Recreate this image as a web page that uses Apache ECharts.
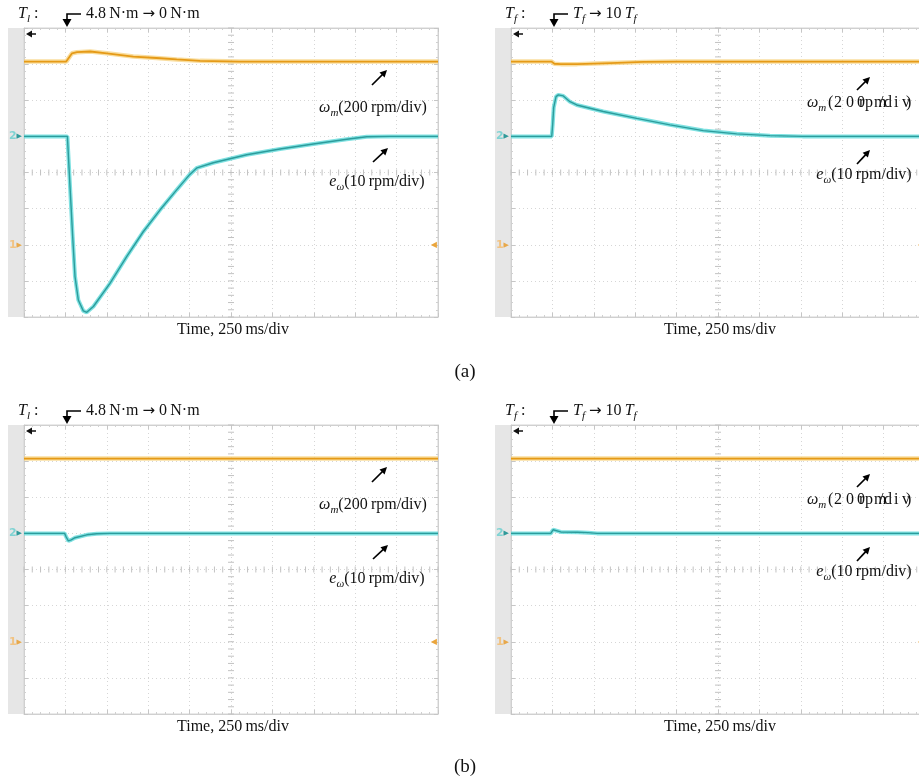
<!DOCTYPE html>
<html>
<head>
<meta charset="utf-8">
<script src="https://cdn.jsdelivr.net/npm/echarts@6/dist/echarts.min.js"></script>
<style>
  html, body { margin: 0; padding: 0; background: #fff; }
  #chart { width: 919px; height: 783px; }
</style>
</head>
<body>
<div id="chart"></div>
<script>
// Scope screen: 10 horizontal divisions of 250 ms, 8 vertical divisions centred on 0.
const msPerDiv = 250;
const timeDivs = 10;
const halfDivs = 4;

// Trace positions are in screen divisions (ω_m: 200 rpm/div, e_ω: 10 rpm/div).
// (a) left: load torque step 4.8 N·m → 0 N·m
const aLoadSpeedTime = [0, 255, 265, 290, 320, 400, 500, 660, 800, 922, 1063, 1300, 2500];
const aLoadSpeed     = [3.07, 3.07, 3.12, 3.30, 3.33, 3.35, 3.30, 3.21, 3.17, 3.13, 3.09, 3.07, 3.07];
const aLoadErrTime   = [0, 262, 278, 294, 308, 328, 358, 379, 419, 519, 620, 720, 821, 922, 1000, 1045, 1143, 1345, 1546, 1747, 1949, 2069, 2210, 2500];
const aLoadErr       = [1.0, 1.0, -0.4, -1.78, -2.88, -3.53, -3.83, -3.87, -3.71, -3.07, -2.33, -1.64, -1.04, -0.48, -0.06, 0.13, 0.27, 0.49, 0.65, 0.79, 0.92, 0.99, 1.0, 1.0];

// (a) right: friction step T_f → 10 T_f
const aFricSpeedTime = [0, 245, 262, 300, 400, 600, 800, 1000, 2500];
const aFricSpeed     = [3.07, 3.07, 3.01, 3.0, 3.0, 3.03, 3.06, 3.07, 3.07];
const aFricErrTime   = [0, 246, 252, 258, 272, 286, 316, 356, 397, 557, 759, 960, 1161, 1363, 1564, 1760, 2500];
const aFricErr       = [1.0, 1.0, 1.35, 1.8, 2.10, 2.15, 2.12, 1.96, 1.87, 1.69, 1.50, 1.32, 1.16, 1.07, 1.02, 1.0, 1.0];

// (b) left: load torque step
const bLoadSpeedTime = [0, 600, 1250, 1900, 2500];
const bLoadSpeed     = [3.07, 3.07, 3.07, 3.07, 3.07];
const bLoadErrTime   = [0, 245, 255, 268, 285, 308, 379, 439, 520, 2500];
const bLoadErr       = [1.0, 1.0, 0.9, 0.79, 0.82, 0.88, 0.96, 0.99, 1.0, 1.0];

// (b) right: friction step
const bFricSpeedTime = [0, 600, 1250, 1900, 2500];
const bFricSpeed     = [3.07, 3.07, 3.07, 3.07, 3.07];
const bFricErrTime   = [0, 240, 254, 262, 300, 400, 465, 520, 2500];
const bFricErr       = [1.0, 1.0, 1.1, 1.06, 1.04, 1.03, 1.02, 1.0, 1.0];

// Channel ground markers and trigger level (divisions)
const ch1Ground = -2;
const ch2Ground = 1;
const triggerLevel = -2;

// Texts
const timeText = 'Time, 250\u2009ms/div';
const speedScaleText = '(200\u2009rpm/div)';
const errScaleText = '(10\u2009rpm/div)';
const subfigLabels = ['(a)', '(b)'];

const traces = [
  { speed: [aLoadSpeedTime, aLoadSpeed], err: [aLoadErrTime, aLoadErr], kind: 'load' },
  { speed: [aFricSpeedTime, aFricSpeed], err: [aFricErrTime, aFricErr], kind: 'fric' },
  { speed: [bLoadSpeedTime, bLoadSpeed], err: [bLoadErrTime, bLoadErr], kind: 'load' },
  { speed: [bFricSpeedTime, bFricSpeed], err: [bFricErrTime, bFricErr], kind: 'fric' }
];

// Layout of the four scope screens
const W = 414, H = 289;
const panels = [
  { left: 24,  top: 28,  col: 0 },
  { left: 511, top: 28,  col: 1 },
  { left: 24,  top: 425, col: 0 },
  { left: 511, top: 425, col: 1 }
];

const SERIF = "'Liberation Serif', 'Times New Roman', serif";
const FS = 16;
const INK = '#111';
const YEL = '#E59A17', YEL_HALO = '#F7D27E';
const CYA = '#2C9C9C', CYA_HALO = '#5FDADA';

const zip = (t, v) => t.map((x, k) => [x, v[k]]);

const chart = echarts.init(document.getElementById('chart'), null, { renderer: 'canvas' });

const grid = [], xAxis = [], yAxis = [], series = [];
const gridLineColor = '#d6d6d6';

panels.forEach((p, i) => {
  grid.push({
    left: p.left, top: p.top, width: W, height: H,
    outerBoundsMode: 'none', containLabel: false,
    show: true, backgroundColor: '#fff', borderColor: '#d4d4d4', borderWidth: 1
  });
  const xBase = {
    gridIndex: i, type: 'value', min: 0, max: msPerDiv * timeDivs, interval: msPerDiv,
    axisLine: { show: true, onZero: false, lineStyle: { color: '#d0d0d0', width: 1 } },
    axisTick: { show: true, inside: true, length: 4, lineStyle: { color: '#c6c6c6' } },
    minorTick: { show: true, splitNumber: 5, length: 2, lineStyle: { color: '#d0d0d0' } },
    axisLabel: { show: false }
  };
  xAxis.push(Object.assign({}, xBase, {
    position: 'bottom',
    splitLine: { show: true, lineStyle: { color: gridLineColor, type: [1, 3], width: 1 } }
  }));
  xAxis.push(Object.assign({}, xBase, { position: 'top', splitLine: { show: false } }));

  const yBase = {
    gridIndex: i, type: 'value', min: -halfDivs, max: halfDivs, interval: 1,
    axisLine: { show: true, onZero: false, lineStyle: { color: '#d0d0d0', width: 1 } },
    axisTick: { show: true, inside: true, length: 4, lineStyle: { color: '#c6c6c6' } },
    minorTick: { show: true, splitNumber: 5, length: 2, lineStyle: { color: '#d0d0d0' } }
  };
  yAxis.push(Object.assign({}, yBase, {
    position: 'left',
    splitLine: { show: true, lineStyle: { color: gridLineColor, type: [1, 3], width: 1 } },
    axisLabel: {
      show: true, margin: 2,
      showMinLabel: false, showMaxLabel: false,
      formatter: v => v === ch2Ground ? '{c|2}{ca|▶}' : (v === ch1Ground ? '{o|1}{oa|▶}' : ''),
      rich: {
        c: { color: '#7fd3d3', fontSize: 11, fontFamily: 'DejaVu Sans', fontWeight: 'bold' },
        ca: { color: '#2f9a9a', fontSize: 7, fontFamily: 'DejaVu Sans' },
        o: { color: '#f1c383', fontSize: 11, fontFamily: 'DejaVu Sans', fontWeight: 'bold' },
        oa: { color: '#e8a84a', fontSize: 7, fontFamily: 'DejaVu Sans' }
      }
    }
  }));
  yAxis.push(Object.assign({}, yBase, {
    position: 'right', splitLine: { show: false },
    axisLabel: {
      show: true, inside: true, margin: 1,
      showMinLabel: false, showMaxLabel: false,
      formatter: v => v === triggerLevel ? '{t|◀}' : '',
      rich: { t: { color: '#eaa53c', fontSize: 8, fontFamily: 'DejaVu Sans' } }
    }
  }));

  const xi = 2 * i, yi = 2 * i;
  const tr = traces[i];
  const lineBase = { type: 'line', xAxisIndex: xi, yAxisIndex: yi, showSymbol: false, silent: true, animation: false };

  // Centre graticule with fine ticks every 1/5 division
  series.push({
    type: 'custom', xAxisIndex: xi, yAxisIndex: yi, silent: true, z: 1, animation: false,
    data: [[msPerDiv * timeDivs / 2, 0]],
    renderItem: (params, api) => {
      const c = api.coord([msPerDiv * timeDivs / 2, 0]);
      const kids = [];
      const st = { stroke: '#c2c2c2', lineWidth: 1 };
      for (let k = 0; k <= timeDivs * 5; k++) {
        const x = api.coord([k * msPerDiv / 5, 0])[0];
        kids.push({ type: 'line', shape: { x1: x, y1: c[1] - 3, x2: x, y2: c[1] + 3 }, style: st });
      }
      for (let k = 0; k <= halfDivs * 10; k++) {
        const y = api.coord([0, -halfDivs + k / 5])[1];
        kids.push({ type: 'line', shape: { x1: c[0] - 3, y1: y, x2: c[0] + 3, y2: y }, style: st });
      }
      return { type: 'group', children: kids };
    }
  });

  series.push(Object.assign({}, lineBase, {
    name: 'ω_m halo', z: 2, data: zip(tr.speed[0], tr.speed[1]),
    lineStyle: { color: YEL_HALO, width: 4.5, opacity: 0.75 }
  }));
  series.push(Object.assign({}, lineBase, {
    name: 'ω_m', z: 3, data: zip(tr.speed[0], tr.speed[1]),
    lineStyle: { color: YEL, width: 1.8 }
  }));
  series.push(Object.assign({}, lineBase, {
    name: 'e_ω halo', z: 2, data: zip(tr.err[0], tr.err[1]),
    lineStyle: { color: CYA_HALO, width: 4, opacity: 0.8 }
  }));
  series.push(Object.assign({}, lineBase, {
    name: 'e_ω', z: 3, data: zip(tr.err[0], tr.err[1]),
    lineStyle: { color: CYA, width: 1.4 }
  }));
});

// ---------- annotation graphics ----------
const richTokens = {
  n: { fontFamily: SERIF, fontSize: FS, fill: INK },
  a: { fontFamily: 'DejaVu Sans', fontSize: 15, fill: INK },
  i: { fontFamily: SERIF, fontSize: FS, fontStyle: 'italic', fill: INK },
  s: { fontFamily: SERIF, fontSize: 11, fontStyle: 'italic', fill: INK, padding: [11, 0, 0, 0] }
};
function rtext(x, y, text, align, size) {
  const rich = size ? { n: Object.assign({}, richTokens.n, { fontSize: size }) } : richTokens;
  return {
    type: 'text', z: 10, silent: true,
    style: {
      x, y, text, rich,
      align: align || 'left', textAlign: align || 'left',
      verticalAlign: 'middle', textVerticalAlign: 'middle',
      fill: INK, fontFamily: SERIF, fontSize: size || FS
    }
  };
}
function arrow(x1, y1, x2, y2) {
  const dx = x2 - x1, dy = y2 - y1, len = Math.hypot(dx, dy);
  const ux = dx / len, uy = dy / len, hl = 7, hw = 3.6;
  const bx = x2 - ux * hl, by = y2 - uy * hl;
  return [
    { type: 'line', z: 10, silent: true, shape: { x1, y1, x2: bx + ux, y2: by + uy }, style: { stroke: '#000', lineWidth: 1.7 } },
    { type: 'polygon', z: 10, silent: true, shape: { points: [[x2, y2], [bx - uy * hw, by + ux * hw], [bx + uy * hw, by - ux * hw]] }, style: { fill: '#000' } }
  ];
}
function bentArrow(L, T) {
  const xr = L + 57, xa = L + 43, y0 = T - 14, tip = T - 1;
  return [
    { type: 'polyline', z: 10, silent: true, shape: { points: [[xr, y0], [xa, y0], [xa, tip - 6]] }, style: { stroke: '#000', lineWidth: 1.6, fill: null } },
    { type: 'polygon', z: 10, silent: true, shape: { points: [[xa - 4.5, tip - 8], [xa + 4.5, tip - 8], [xa, tip]] }, style: { fill: '#000' } }
  ];
}
// Per-glyph placement for the tightly set ω_m scale text on the friction panels
const fricSpeedGlyphs = [['(', 317], ['2', 323], ['0', 335], ['0', 346], ['r', 348], ['p', 354], ['m', 363], ['/', 368], ['d', 373], ['i', 383], ['v', 391], [')', 395]];

const elements = [];
panels.forEach((p, i) => {
  const L = p.left, T = p.top;
  // grey strip left of the screen
  elements.push({ type: 'rect', z: -1, silent: true, shape: { x: L - 16, y: T, width: 16, height: H }, style: { fill: '#e6e6e6' } });
  // black position marker, top-left of the screen
  elements.push({ type: 'polygon', z: 10, silent: true, shape: { points: [[L + 2, T + 6], [L + 8, T + 2.5], [L + 8, T + 9.5]] }, style: { fill: '#111' } });
  elements.push({ type: 'line', z: 10, silent: true, shape: { x1: L + 7, y1: T + 6, x2: L + 12, y2: T + 6 }, style: { stroke: '#111', lineWidth: 1.5 } });

  const sub = traces[i].kind === 'load' ? 'l' : 'f';
  elements.push(rtext(L - 6, T - 14, '{i|T}{s|' + sub + '}{n| :}'));
  elements.push(...bentArrow(L, T));
  if (traces[i].kind === 'load') {
    elements.push(rtext(L + 62, T - 14, '{n|4.8\u2009N·m }{a|→}{n| 0\u2009N·m}'));
  } else {
    elements.push(rtext(L + 62, T - 14, '{i|T}{s|f}{n| }{a|→}{n| 10\u2009}{i|T}{s|f}'));
  }
  elements.push(rtext(L + 209, T + 302, '{n|' + timeText + '}', 'center'));

  if (p.col === 0) {
    elements.push(rtext(L + 349, T + 80, '{i|ω}{s|m}{n|' + speedScaleText + '}', 'center'));
    elements.push(...arrow(L + 348, T + 57, L + 363, T + 42));
    elements.push(rtext(L + 353, T + 154, '{i|e}{s|ω}{n|' + errScaleText + '}', 'center'));
    elements.push(...arrow(L + 349, T + 134, L + 364, T + 120));
  } else {
    elements.push(rtext(L + 296, T + 75, '{i|ω}{s|m}'));
    fricSpeedGlyphs.forEach(([ch, dx]) => elements.push(rtext(L + dx, T + 75, '{n|' + ch + '}')));
    elements.push(...arrow(L + 346, T + 62, L + 359, T + 49));
    elements.push(rtext(L + 353, T + 147, '{i|e}{s|ω}{n|' + errScaleText + '}', 'center'));
    elements.push(...arrow(L + 346, T + 136, L + 359, T + 122));
  }
});
elements.push(rtext(465, 372, '{n|' + subfigLabels[0] + '}', 'center', 19));
elements.push(rtext(465, 767, '{n|' + subfigLabels[1] + '}', 'center', 19));

chart.setOption({
  animation: false,
  backgroundColor: '#ffffff',
  grid, xAxis, yAxis, series,
  graphic: { elements }
});
</script>
</body>
</html>
